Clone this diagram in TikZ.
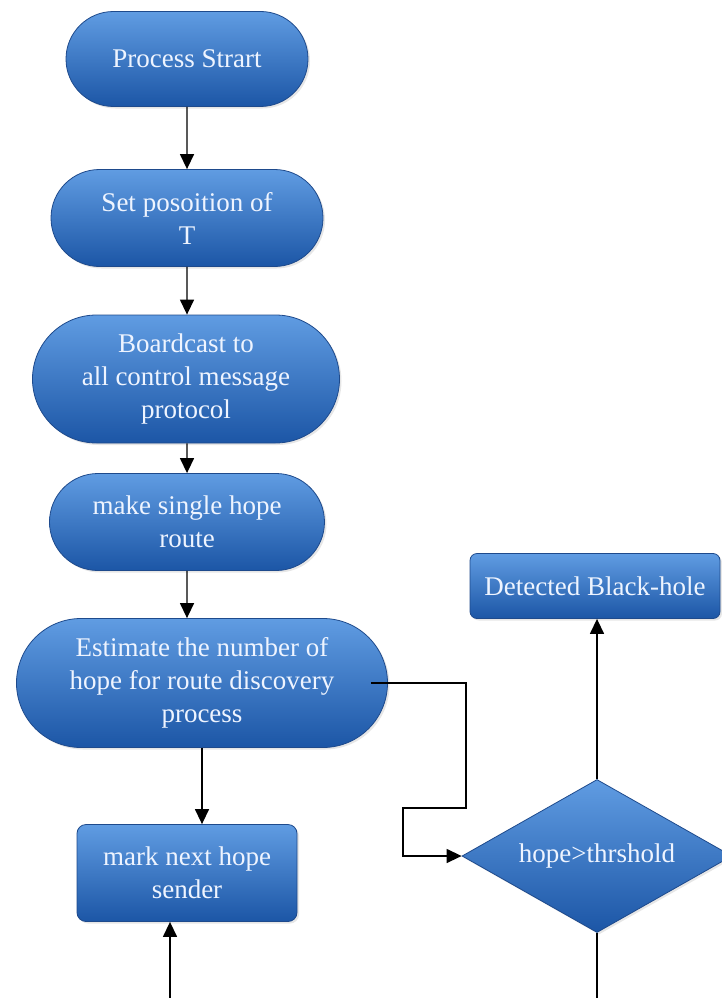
\documentclass[tikz,border=0pt]{standalone}
\usepackage{fontspec}
\setmainfont{Liberation Serif}
\usetikzlibrary{arrows.meta,shapes.misc,shapes.geometric,shadows}
\definecolor{boxtop}{RGB}{96,156,226}
\definecolor{boxmid}{RGB}{58,122,210}
\definecolor{boxbot}{RGB}{28,86,166}
\definecolor{boxline}{RGB}{30,74,140}
\definecolor{boxtext}{RGB}{238,244,255}
\tikzset{
    fill3d/.style={draw=boxline, line width=0.8pt, top color=boxtop,
                   middle color=boxmid, bottom color=boxbot,
                   text=boxtext, align=center, inner sep=4pt,
                   font=\fontsize{27}{33}\selectfont,
                   drop shadow={opacity=0.2, shadow xshift=2pt, shadow yshift=-2pt}},
    pill/.style={fill3d, rounded rectangle},
    card/.style={fill3d, rectangle, rounded corners=9pt},
    choice/.style={fill3d, diamond, aspect=1.76, inner sep=0pt},
    flow/.style={-{Triangle[length=15pt,width=14pt]}, line width=1.4pt},
    wire/.style={line width=1.4pt},
}
\begin{document}
\begin{tikzpicture}[x=1pt,y=-1pt]
    \useasboundingbox (0,0) rectangle (721,998);

    \node[pill, minimum width=250pt, minimum height=95pt] (start) at (187,59) {Process Strart};
    \node[pill, minimum width=280pt, minimum height=97pt] (setpos) at (187,218) {Set posoition of\\T};
    \node[pill, minimum width=315pt, minimum height=128pt] (bcast) at (186,379) {Boardcast to\\all control message\\protocol};
    \node[pill, minimum width=283pt, minimum height=97pt] (single) at (187,522) {make single hope\\route};
    \node[pill, minimum width=379pt, minimum height=129pt] (estim) at (202,683) {Estimate the number of\\hope for route discovery\\process};
    \node[card, minimum width=220pt, minimum height=97pt] (mark) at (187,873) {mark next hope\\sender};
    \node[card, rounded corners=7pt, minimum width=250pt, minimum height=65pt] (detect) at (595,586) {Detected Black-hole};
    \node[choice, minimum width=270pt, minimum height=153pt] (check) at (597,856) {hope>thrshold};
    \coordinate (loopin) at (170,998);
    \coordinate (loopout) at (597,998);

    \draw[flow] (start) -- (setpos);
    \draw[flow] (setpos) -- (bcast.north -| setpos);
    \draw[flow] (bcast.south -| single) -- (single);
    \draw[flow] (single) -- (single |- estim.north);
    \draw[flow] (estim.south) -- (estim.south |- mark.north);
    \draw[flow] ([xshift=-17pt]estim.east) -- ++(95,0) -- ++(0,125) -- ++(-63,0) |- (check.west);
    \draw[flow] (check.north) -- (detect.south -| check.north);
    \draw[flow] (loopin) -- (loopin |- mark.south);
    \draw[wire] (check.south) -- (loopout);

\end{tikzpicture}
\end{document}
